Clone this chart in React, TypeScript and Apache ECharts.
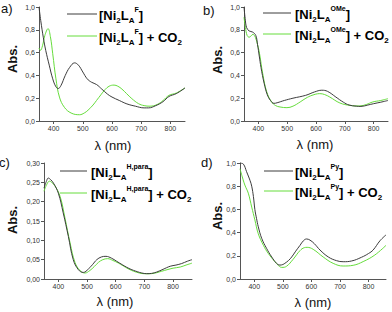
import React, { useEffect, useRef } from 'react';
import * as echarts from 'echarts';

type P = [number, number][];

// Panel a: [Ni2LA^F]
const aFree: P = [[350,1.0],[356,0.88],[365,0.73],[373,0.62],[385,0.49],[397,0.37],[408,0.30],[416,0.285],[425,0.31],[440,0.40],[455,0.47],[472,0.51],[485,0.49],[500,0.43],[515,0.37],[530,0.34],[547,0.32],[565,0.28],[585,0.235],[600,0.21],[625,0.18],[651,0.15],[680,0.13],[710,0.115],[725,0.115],[750,0.135],[775,0.17],[795,0.215],[820,0.24],[850,0.29]];
const aCO2: P = [[350,0.64],[355,0.62],[362,0.66],[370,0.75],[381,0.81],[389,0.74],[397,0.59],[408,0.37],[420,0.21],[437,0.12],[460,0.07],[489,0.055],[505,0.07],[518,0.095],[535,0.14],[547,0.18],[562,0.23],[576,0.275],[590,0.305],[607,0.315],[620,0.305],[634,0.28],[650,0.24],[668,0.196],[691,0.152],[710,0.135],[730,0.13],[755,0.145],[775,0.18],[795,0.225],[820,0.245],[850,0.29]];
// Panel b: [Ni2LA^OMe]
const bFree: P = [[350,1.0],[354,0.9],[359,0.82],[368,0.79],[380,0.78],[391,0.75],[397,0.67],[403,0.57],[409,0.47],[420,0.33],[431,0.23],[442,0.18],[454,0.155],[465,0.16],[490,0.18],[520,0.2],[564,0.225],[595,0.255],[620,0.27],[640,0.26],[669,0.21],[695,0.165],[715,0.14],[740,0.13],[756,0.128],[780,0.14],[800,0.152],[825,0.165],[850,0.18]];
const bCO2: P = [[350,0.91],[355,0.82],[361,0.75],[368,0.735],[381,0.76],[390,0.73],[397,0.67],[404,0.59],[415,0.415],[429,0.255],[446,0.167],[460,0.135],[475,0.123],[499,0.117],[520,0.13],[545,0.167],[565,0.2],[586,0.225],[613,0.24],[630,0.232],[648,0.21],[683,0.158],[718,0.137],[752,0.132],[775,0.145],[797,0.167],[825,0.18],[850,0.196]];
// Panel c: [Ni2LA^H,para]
const cFree: P = [[350,0.235],[358,0.252],[365,0.261],[373,0.257],[383,0.248],[400,0.222],[417,0.171],[435,0.11],[452,0.05],[470,0.024],[487,0.017],[505,0.026],[520,0.038],[534,0.05],[550,0.057],[566,0.0586],[585,0.054],[603,0.046],[625,0.036],[650,0.026],[675,0.019],[691,0.0155],[708,0.0138],[725,0.0145],[743,0.018],[765,0.025],[790,0.033],[810,0.036],[830,0.04],[850,0.046],[866,0.05]];
const cCO2: P = [[350,0.227],[360,0.245],[369,0.253],[378,0.249],[388,0.241],[406,0.214],[423,0.158],[441,0.093],[458,0.043],[476,0.0216],[493,0.0155],[510,0.022],[525,0.032],[540,0.043],[555,0.05],[572,0.0526],[590,0.048],[610,0.041],[635,0.03],[656,0.022],[680,0.016],[697,0.0138],[715,0.0135],[735,0.015],[760,0.02],[779,0.024],[800,0.028],[825,0.031],[845,0.036],[866,0.041]];
// Panel d: [Ni2LA^Py]
const dFree: P = [[350,1.0],[362,0.99],[373,0.925],[385,0.85],[391,0.8],[397,0.71],[402,0.6],[408,0.52],[414,0.45],[426,0.35],[443,0.264],[461,0.19],[478,0.135],[490,0.12],[500,0.125],[507,0.135],[520,0.16],[531,0.19],[545,0.24],[560,0.29],[572,0.33],[583,0.345],[595,0.335],[610,0.305],[630,0.25],[659,0.19],[688,0.158],[711,0.149],[740,0.155],[775,0.187],[800,0.22],[816,0.25],[840,0.33],[861,0.38]];
const dCO2: P = [[350,0.95],[358,0.88],[367,0.81],[379,0.74],[391,0.62],[402,0.51],[414,0.39],[432,0.29],[449,0.22],[472,0.15],[485,0.115],[496,0.10],[513,0.11],[536,0.17],[560,0.245],[575,0.27],[585,0.273],[606,0.256],[641,0.19],[676,0.135],[711,0.112],[746,0.118],[781,0.15],[822,0.207],[861,0.29]];

const xTickValues = [400, 500, 600, 700, 800];
const xMaxes = [850, 850, 866, 861];
const yMaxes = [1, 1, 0.3, 1];
const yIntervals = [0.2, 0.2, 0.05, 0.2];
const yDecimals = [1, 1, 2, 1];
const panelLabels = ['a)', 'b)', 'c)', 'd)'];
const ligandSup = ['F', 'OMe', 'H,para', 'Py'];
const freeSeries = [aFree, bFree, cFree, dFree];
const co2Series = [aCO2, bCO2, cCO2, dCO2];

const BLACK = '#3c3c3c';
const GREEN = '#66dd3c';
const FONT = 'Liberation Sans, Arial, sans-serif';

const grids = [
  { left: 39, top: 7, width: 146, height: 114 },
  { left: 244, top: 7, width: 144, height: 114 },
  { left: 44, top: 163, width: 148, height: 116 },
  { left: 240, top: 163, width: 146, height: 116 },
];

// layout of decorations (positions only)
const deco = [
  { lab: [1, 2], abs: [12, 59], lam: [113, 145], leg: [67, 97, 99, 14, 36] },
  { lab: [203, 4], abs: [217, 60], lam: [315, 144], leg: [263, 291, 295, 13, 34] },
  { lab: [-1, 156], abs: [12, 220], lam: [115, 301], leg: [60, 87, 91, 171, 193] },
  { lab: [201, 156], abs: [217, 216], lam: [313, 302], leg: [264, 293, 295, 171, 191] },
];

const rich = {
  m: { fontSize: 13, fontWeight: 'bold', fontFamily: FONT, lineHeight: 18, color: '#111' },
  s: { fontSize: 8, fontWeight: 'bold', fontFamily: FONT, lineHeight: 8, height: 8, verticalAlign: 'bottom', color: '#111' },
  p: { fontSize: 7, fontWeight: 'bold', fontFamily: FONT, lineHeight: 7, height: 7, verticalAlign: 'top', color: '#111' },
};

function legendText(sup: string, co2: boolean) {
  const base = `{m|[Ni}{s|2}{m|L}{s|A}{p|${sup}}`;
  return co2 ? base + '{m|] + CO}{s|2}' : base + '{m|]}';
}

function buildOption() {
  const xAxis: any[] = [];
  const yAxis: any[] = [];
  const series: any[] = [];
  const graphic: any[] = [];
  for (let i = 0; i < 4; i++) {
    xAxis.push({
      type: 'value', gridIndex: i, min: 350, max: xMaxes[i],
      axisLine: { show: true, lineStyle: { color: '#555', width: 1 } },
      axisTick: { show: true, length: 3, customValues: xTickValues, lineStyle: { color: '#555' } },
      axisLabel: { customValues: xTickValues, fontSize: 7, color: '#333', fontFamily: FONT, margin: 4 },
      splitLine: { show: false },
    });
    yAxis.push({
      type: 'value', gridIndex: i, min: 0, max: yMaxes[i], interval: yIntervals[i],
      axisLine: { show: true, lineStyle: { color: '#555', width: 1 } },
      axisTick: { show: true, length: 3, lineStyle: { color: '#555' } },
      axisLabel: {
        fontSize: 7, color: '#333', fontFamily: FONT, margin: 4,
        formatter: (v: number) => v.toFixed(yDecimals[i]).replace('.', ','),
      },
      splitLine: { show: false },
    });
    series.push({
      type: 'line', xAxisIndex: i, yAxisIndex: i, data: freeSeries[i], smooth: 0.4,
      showSymbol: false, symbol: 'none', lineStyle: { color: BLACK, width: 1 }, z: 3,
    });
    series.push({
      type: 'line', xAxisIndex: i, yAxisIndex: i, data: co2Series[i], smooth: 0.4,
      showSymbol: false, symbol: 'none', lineStyle: { color: GREEN, width: 1 }, z: 2,
    });
    const d = deco[i];
    graphic.push({
      type: 'text', x: d.lab[0], y: d.lab[1],
      style: { text: panelLabels[i], fontSize: 13, fontFamily: FONT, fill: '#111', verticalAlign: 'top' },
    });
    graphic.push({
      type: 'text', x: d.abs[0], y: d.abs[1], rotation: Math.PI / 2,
      style: { text: 'Abs.', fontSize: 13, fontWeight: 'bold', fontFamily: FONT, fill: '#111', align: 'center', verticalAlign: 'middle' },
    });
    graphic.push({
      type: 'text', x: d.lam[0], y: d.lam[1],
      style: { text: 'λ (nm)', fontSize: 13, fontFamily: FONT, fill: '#111', align: 'center', verticalAlign: 'middle' },
    });
    const [lx1, lx2, tx, ly1, ly2] = d.leg;
    graphic.push({ type: 'line', shape: { x1: lx1, y1: ly1, x2: lx2, y2: ly1 }, style: { stroke: BLACK, lineWidth: 1 } });
    graphic.push({ type: 'line', shape: { x1: lx1, y1: ly2, x2: lx2, y2: ly2 }, style: { stroke: GREEN, lineWidth: 1 } });
    graphic.push({
      type: 'text', x: tx, y: ly1 + 1,
      style: { text: legendText(ligandSup[i], false), rich, verticalAlign: 'middle', align: 'left' },
    });
    graphic.push({
      type: 'text', x: tx, y: ly2 + 1,
      style: { text: legendText(ligandSup[i], true), rich, verticalAlign: 'middle', align: 'left' },
    });
  }
  return {
    animation: false,
    backgroundColor: '#fff',
    grid: grids,
    xAxis, yAxis, series, graphic,
  };
}

export default function App() {
  const ref = useRef<HTMLDivElement>(null);
  useEffect(() => {
    document.body.style.margin = '0';
    const chart = echarts.init(ref.current!, null, { renderer: 'svg' });
    chart.setOption(buildOption() as any);
    return () => chart.dispose();
  }, []);
  return <div ref={ref} style={{ width: 392, height: 312 }} />;
}
